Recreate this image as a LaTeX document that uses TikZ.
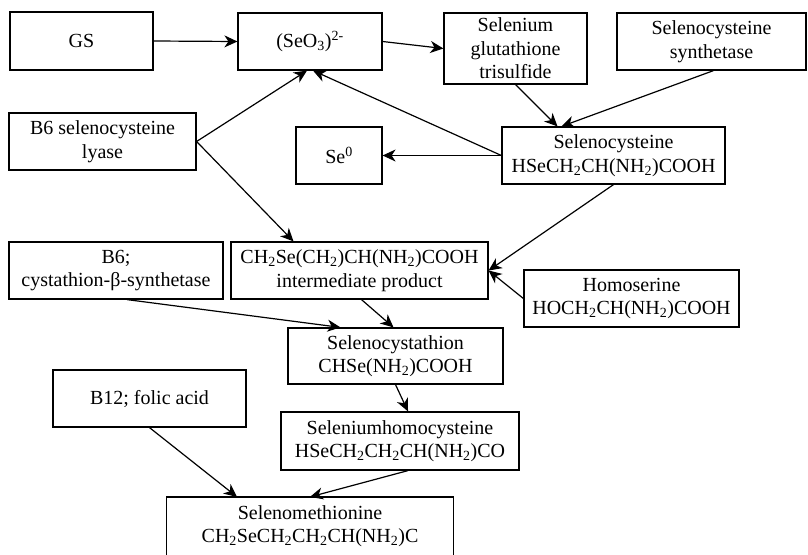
\documentclass[tikz,border=0pt]{standalone}
\usepackage{fontspec}
\setmainfont{Liberation Serif}
\usetikzlibrary{arrows.meta}
\newcommand{\sbs}[1]{\textsubscript{#1}}
\newcommand{\sps}[1]{\textsuperscript{#1}}
\begin{document}
\begin{tikzpicture}[x=1pt,y=-1pt,
  box/.style={draw, line width=1.2pt, align=center, inner sep=0pt,
    font=\fontsize{20}{23.5}\selectfont},
  arr/.style={-{Stealth[length=13pt,width=12pt,inset=4pt]}, line width=1.2pt}]
\useasboundingbox (0,0) rectangle (808,554);
\clip (0,0) rectangle (808,554);
\fill[white] (0,0) rectangle (808,554);

\node[box, minimum width=143pt, minimum height=58pt] (gs) at (81.5,41) {GS};
\node[box, minimum width=144pt, minimum height=57pt] (seo) at (310,41.5) {(SeO\sbs{3})\sps{2-}};
\node[box, minimum width=143pt, minimum height=71pt] (sgt) at (515.5,48.5) {Selenium\\glutathione\\trisulfide};
\node[box, minimum width=189pt, minimum height=57pt] (scs) at (711.5,41.5) {Selenocysteine\\synthetase};
\node[box, minimum width=187pt, minimum height=57pt] (lyase) at (102.5,141.5) {B6 selenocysteine\\lyase};
\node[box, minimum width=86pt, minimum height=57pt] (se0) at (339,155.5) {Se\sps{0}};
\node[box, minimum width=223pt, minimum height=57pt] (secys) at (613.5,155.5) {Selenocysteine\\HSeCH\sbs{2}CH(NH\sbs{2})COOH};
\node[box, minimum width=214pt, minimum height=57pt] (cbs) at (116,270.5) {B6;\\cystathion-β-synthetase};
\node[box, minimum width=257pt, minimum height=57pt] (inter) at (359.5,270.5) {CH\sbs{2}Se(CH\sbs{2})CH(NH\sbs{2})COOH\\intermediate product};
\node[box, minimum width=215pt, minimum height=57pt] (hom) at (631.5,298.5) {Homoserine\\HOCH\sbs{2}CH(NH\sbs{2})COOH};
\node[box, minimum width=215pt, minimum height=56pt] (scyst) at (395.5,356) {Selenocystathion\\CHSe(NH\sbs{2})COOH};
\node[box, minimum width=193pt, minimum height=57pt] (b12) at (149.5,398.5) {B12; folic acid};
\node[box, minimum width=238pt, minimum height=58pt] (shcy) at (400,441) {Seleniumhomocysteine\\HSeCH\sbs{2}CH\sbs{2}CH(NH\sbs{2})CO};
\node[box, draw=none, minimum width=286pt, minimum height=57pt] (smet) at (310,526) {Selenomethionine\\CH\sbs{2}SeCH\sbs{2}CH\sbs{2}CH(NH\sbs{2})C};
\draw[line width=1.2pt] (smet.north west) rectangle ([yshift=-12pt]smet.south east);

\draw[arr] (gs.east) -- (seo.west);
\draw[arr] (seo.east) -- (sgt.west);
\draw[arr] (lyase.east) -- ([xshift=-3pt]seo.south);
\draw[arr] (secys.west) -- ([xshift=3pt]seo.south);
\draw[arr] (secys.west) -- (se0.east);
\draw[arr] (lyase.east) -- ([xshift=-66pt]inter.north);
\draw[arr] (sgt.south) -- ([xshift=-56pt]secys.north);
\draw[arr] ([xshift=2pt]scs.south) -- ([xshift=-52pt]secys.north);
\draw[arr] (secys.south) -- (inter.east);
\draw[arr] (hom.west) -- (inter.east);
\draw[arr] ([xshift=11pt]cbs.south) -- ([xshift=-55pt]scyst.north);
\draw[arr] ([xshift=2pt]inter.south) -- ([xshift=-2pt]scyst.north);
\draw[arr] (scyst.south) -- ([xshift=8pt]shcy.north);
\draw[arr] (b12.south) -- ([xshift=-73pt]smet.north);
\draw[arr] ([xshift=8pt]shcy.south) -- (smet.north);
\end{tikzpicture}
\end{document}
